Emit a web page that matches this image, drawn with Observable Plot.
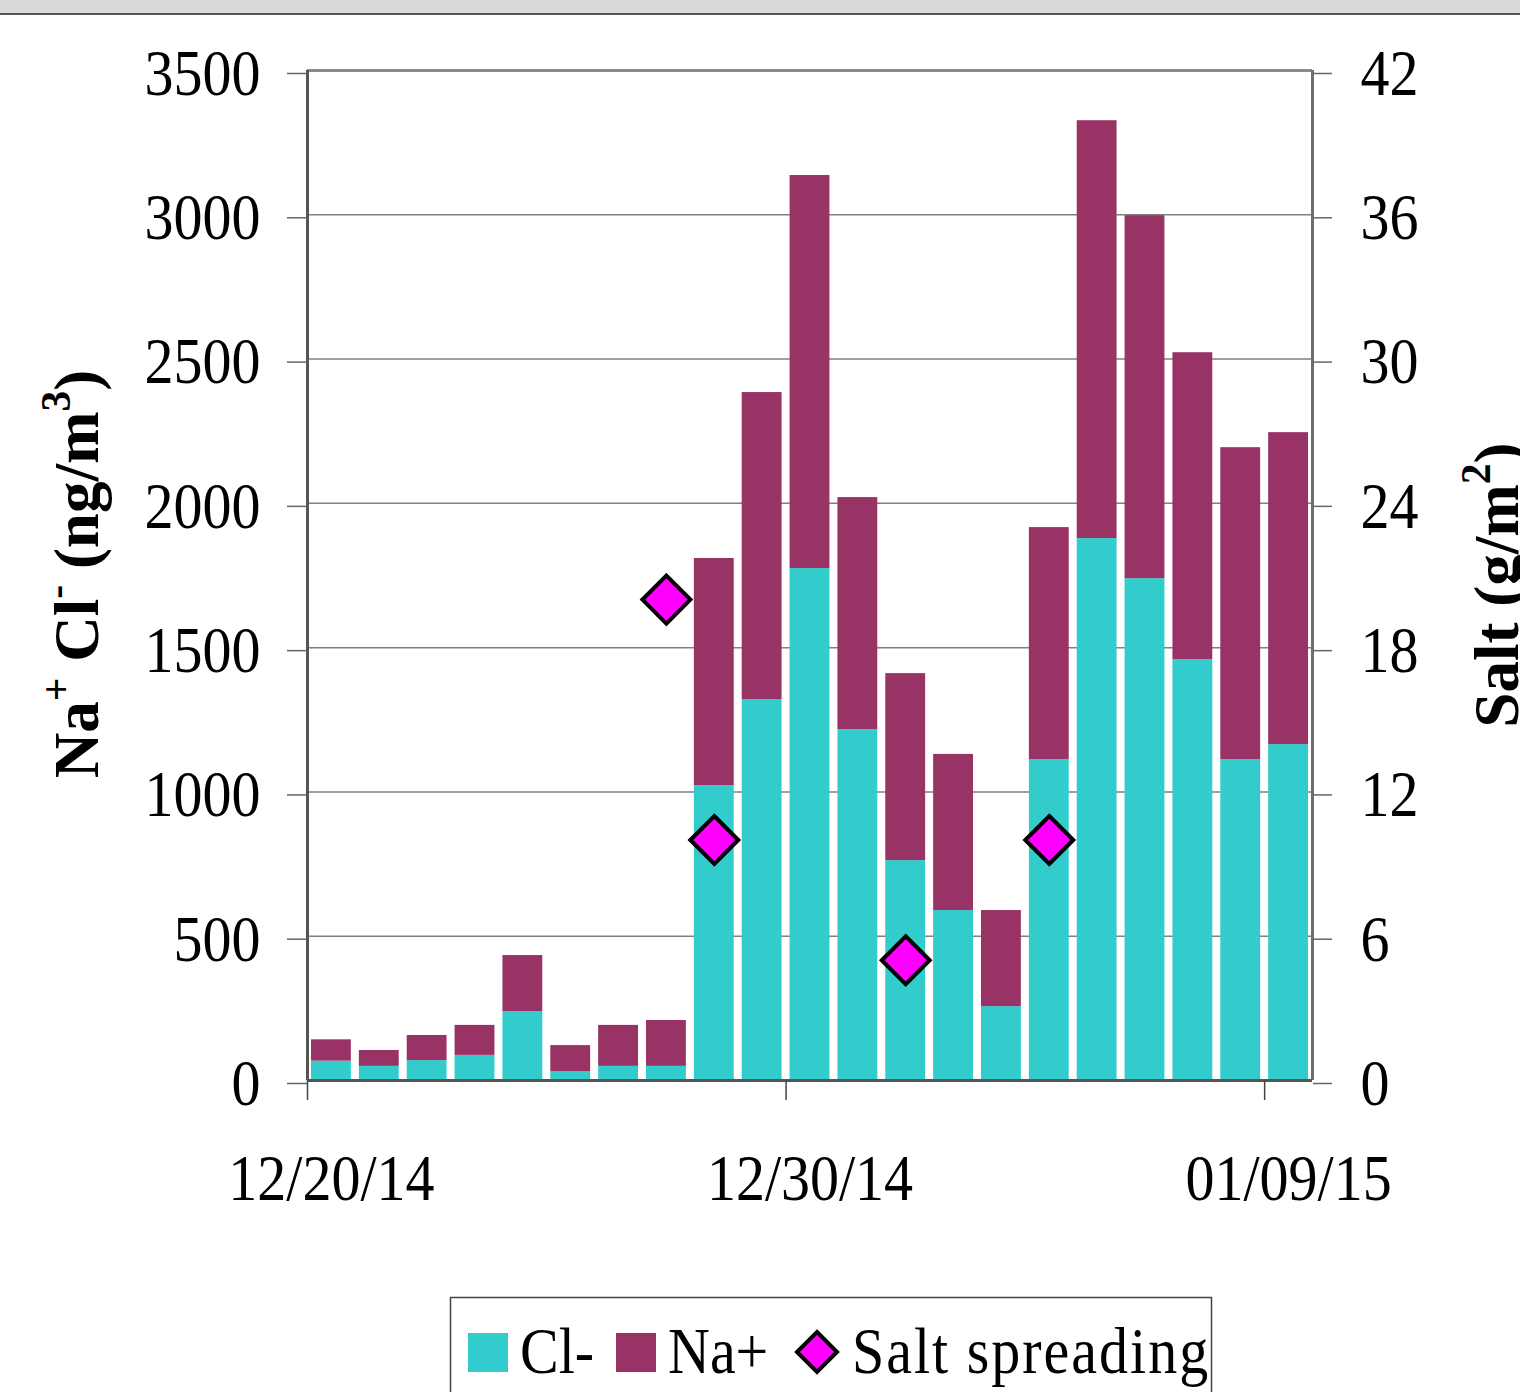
<!DOCTYPE html>
<html><head><meta charset="utf-8">
<script src="https://cdn.jsdelivr.net/npm/d3@7"></script>
<script src="https://cdn.jsdelivr.net/npm/@observablehq/plot@0.6"></script>
<style>
body{margin:0;background:#fff;width:1520px;height:1392px;overflow:hidden;position:relative;font-family:"Liberation Serif","Times New Roman",serif;}
#topbar{position:absolute;left:0;top:0;width:1520px;height:13px;background:#dadada;border-bottom:2px solid #555;}
#chart{position:absolute;left:0;top:0;}
#legend{position:absolute;left:0;top:0;}
</style></head><body>
<div id="chart"></div>
<div id="topbar"></div>
<div id="legend"></div>
<script>
// ---- data ----
const dates = ["2014-12-20","2014-12-21","2014-12-22","2014-12-23","2014-12-24","2014-12-25","2014-12-26",
  "2014-12-27","2014-12-28","2014-12-29","2014-12-30","2014-12-31","2015-01-01","2015-01-02","2015-01-03",
  "2015-01-04","2015-01-05","2015-01-06","2015-01-07","2015-01-08","2015-01-09"];
const chloride = [67,49,69,87,239,31,49,49,1022,1320,1774,1216,762,589,256,1112,1878,1739,1459,1112,1164];
const sodium   = [74,55,87,104,194,90,142,159,787,1064,1362,804,648,541,333,804,1448,1258,1063,1081,1081];
const saltDates = ["2014-12-27","2014-12-28","2015-01-01","2015-01-04"];
const saltValues = [20,10,5,10];
const leftTicks = [0,500,1000,1500,2000,2500,3000,3500];
const rightTicks = [0,6,12,18,24,30,36,42];
const xTickDates = ["2014-12-20","2014-12-30","2015-01-09"];
const seriesNames = ["Cl-","Na+","Salt spreading"];
const seriesColors = ["#33CCCC","#993366","#FF00FF"];

// ---- build ----
const parse = d3.utcParse("%Y-%m-%d");
const yMax = leftTicks[leftTicks.length-1];
const sMax = rightTicks[rightTicks.length-1];
const toLeft = v => v * yMax / sMax;
const rows = [];
dates.forEach((s,i)=>{
  const d = parse(s), e = d3.utcDay.offset(d,1);
  rows.push({x1:d,x2:e,y1:0,y2:chloride[i],ion:seriesNames[0]});
  rows.push({x1:d,x2:e,y1:chloride[i],y2:chloride[i]+sodium[i],ion:seriesNames[1]});
});
const salt = saltDates.map((s,i)=>({date:d3.utcHour.offset(parse(s),12), v:toLeft(saltValues[i])}));
const xStart = parse(dates[0]), xEnd = d3.utcDay.offset(parse(dates[dates.length-1]),1);
const xt = xTickDates.map(parse);

const diamond = {draw(ctx,size){const h=Math.sqrt(size/Math.PI);ctx.moveTo(0,-h);ctx.lineTo(h,0);ctx.lineTo(0,h);ctx.lineTo(-h,0);ctx.closePath();}};

const plot = Plot.plot({
  width:1520, height:1290,
  marginLeft:307, marginRight:208, marginTop:70, marginBottom:210,
  style:{fontFamily:"'Liberation Serif','Times New Roman',serif", fontSize:"58px", color:"#000", background:"transparent", overflow:"visible"},
  x:{type:"utc", domain:[xStart,xEnd], axis:null, label:null},
  y:{domain:[0,yMax], axis:null, label:null},
  color:{domain:seriesNames.slice(0,2), range:seriesColors.slice(0,2)},
  marks:[
    Plot.ruleY(leftTicks.slice(1,-1), {stroke:"#808080", strokeWidth:1.5}),
    Plot.rect(rows, {x1:"x1", x2:"x2", y1:"y1", y2:"y2", fill:"ion", insetLeft:4, insetRight:4}),
    Plot.ruleY([yMax], {stroke:"#8a8a8a", strokeWidth:3}),
    Plot.ruleX([xEnd], {stroke:"#6e6e6e", strokeWidth:3}),
    Plot.ruleX([xStart], {stroke:"#555", strokeWidth:3}),
    Plot.ruleY([0], {stroke:"#555", strokeWidth:3}),
    Plot.axisY(leftTicks, {anchor:"left", tickSize:20, tickPadding:27, stroke:"#666", strokeWidth:1.5, tickFormat:d=>String(d), label:null, dy:3}),
    Plot.axisY(rightTicks.map(toLeft), {anchor:"right", tickSize:19, tickPadding:29, stroke:"#666", strokeWidth:1.5, tickFormat:d=>String(Math.round(d*sMax/yMax)), label:null, dy:3}),
    Plot.axisX(xt, {anchor:"bottom", tickSize:20, stroke:"#444", strokeWidth:1.5, tickFormat:()=>"", label:null}),
    Plot.axisX(xt.map(d=>d3.utcHour.offset(d,12)), {anchor:"bottom", tickSize:0, tickPadding:76, tickFormat:d3.utcFormat("%m/%d/%y"), label:null}),
    Plot.dot(salt, {x:"date", y:"v", symbol:diamond, r:24, fill:seriesColors[2], stroke:"#000", strokeWidth:4})
  ]
});
document.getElementById("chart").appendChild(plot);

// stretch tick labels vertically (tall serif digits in reference)
const S = 1.14;
plot.querySelectorAll("text").forEach(t=>{
  if(!t.textContent) return;
  const b = t.getBBox(); const cy = b.y + b.height/2;
  const tr = t.getAttribute("transform") || "";
  t.setAttribute("transform", `${tr} translate(0,${cy}) scale(1,${S}) translate(0,${-cy})`);
});

// axis titles
const svg = d3.select(plot);
const F = 63;
function title(x, y, parts){
  const t = svg.append("text").attr("transform",`translate(${x},${y}) rotate(-90)`)
    .attr("text-anchor","middle").attr("font-weight","bold").attr("font-size",F)
    .attr("font-family","'Liberation Serif','Times New Roman',serif").attr("fill","#000");
  const shift = F*0.45;
  let raised = false;
  parts.forEach(([s,sup])=>{
    const sp = t.append("tspan").text(s);
    if(sup){ sp.attr("font-size",F*0.66).attr("dy",-shift); raised = true; }
    else if(raised){ sp.attr("dy",shift); raised = false; }
  });
}
title(98, 574, [["Na"],["+",1],[" Cl"],["-",1],[" (ng/m"],["3",1],[")"]]);
title(1518, 585, [["Salt (g/m"],["2",1],[")"]]);

// legend
const lg = d3.select("#legend").append("svg").attr("width",1520).attr("height",1392)
  .style("position","absolute").style("left","0").style("top","0");
lg.append("rect").attr("x",450.5).attr("y",1297.5).attr("width",761).attr("height",120)
  .attr("fill","none").attr("stroke","#444").attr("stroke-width",1.5);
const lgText = (x, s, ls) => lg.append("text").attr("transform",`translate(${x},1373) scale(1,${S})`)
  .attr("font-family","'Liberation Serif','Times New Roman',serif").attr("font-size",58)
  .attr("letter-spacing",ls||0).attr("fill","#000").text(s);
lg.append("rect").attr("x",468).attr("y",1333).attr("width",40).attr("height",39).attr("fill",seriesColors[0]);
lgText(520, seriesNames[0]);
lg.append("rect").attr("x",616).attr("y",1333).attr("width",40).attr("height",39).attr("fill",seriesColors[1]);
lgText(668, seriesNames[1]);
lg.append("path").attr("d","M817,1332L837,1352L817,1372L797,1352Z").attr("fill",seriesColors[2])
  .attr("stroke","#000").attr("stroke-width",4).attr("stroke-linejoin","miter");
lgText(852, seriesNames[2], 2);
</script>
</body></html>
